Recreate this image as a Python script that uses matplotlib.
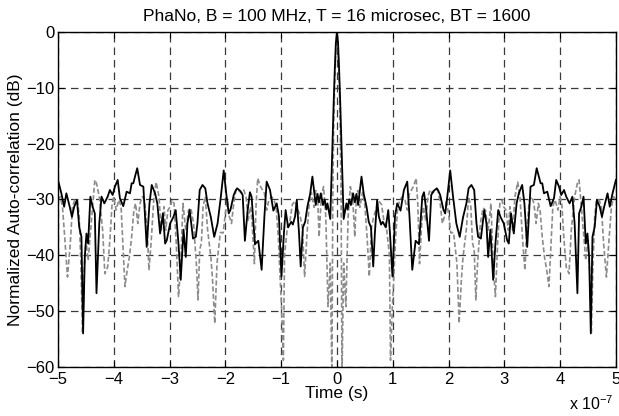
import numpy as np
import matplotlib
matplotlib.use("Agg")
import matplotlib.pyplot as plt

plt.rcParams['font.family'] = ['Liberation Sans', 'DejaVu Sans']

# positive half of the time axis (units of 1e-7 s), the plot is symmetric about 0
t_black = [0.00, 0.02, 0.04, 0.06, 0.08, 0.10, 0.12, 0.17, 0.19, 0.22, 0.25, 0.29,
           0.32, 0.35, 0.38, 0.44, 0.48, 0.53, 0.57, 0.61, 0.65, 0.68, 0.72, 0.75,
           0.79, 0.82, 0.875, 0.92, 0.95, 0.995, 1.04, 1.08, 1.14, 1.20, 1.26, 1.30,
           1.35, 1.41, 1.47, 1.53, 1.56, 1.60, 1.65, 1.69, 1.73, 1.79, 1.82, 1.85,
           1.91, 1.94, 1.98, 2.03, 2.08, 2.14, 2.20, 2.26, 2.32, 2.36, 2.41, 2.46,
           2.50, 2.53, 2.58, 2.64, 2.68, 2.71, 2.75, 2.80, 2.84, 2.89, 2.93, 2.99,
           3.05, 3.08, 3.12, 3.17, 3.22, 3.26, 3.32, 3.36, 3.41, 3.47, 3.53, 3.58,
           3.62, 3.65, 3.68, 3.71, 3.77, 3.83, 3.89, 3.93, 3.98, 4.02, 4.07, 4.11,
           4.17, 4.22, 4.26, 4.31, 4.34, 4.38, 4.42, 4.46, 4.49, 4.52, 4.55, 4.58,
           4.62, 4.66, 4.71, 4.75, 4.79, 4.85, 4.89, 4.94, 5.00]
db_black = [0, -2, -7, -13, -20, -27, -33.5, -30.7, -31.8, -30, -31, -28.9,
            -30.5, -29, -31, -25.9, -29, -31.3, -34, -35, -42, -36, -30.1, -33,
            -34.5, -34, -35, -31.9, -36, -43.8, -33, -30.7, -32, -28.3, -26.8, -33,
            -42.6, -37.4, -38, -29.5, -28.7, -31.9, -37.4, -29.2, -28.5, -28, -28.5, -29.2,
            -31.9, -32.5, -29.3, -24.8, -29.4, -34.3, -36.7, -33.2, -30.7, -28, -27.4, -28.3,
            -34.2, -36.7, -37, -31.9, -34.3, -40.3, -35.4, -44.4, -38, -31.9, -33.1, -34.3,
            -37.3, -37.9, -32.5, -36.1, -30.7, -28.9, -27.4, -30.7, -38.5, -27.7, -27.4, -24.4,
            -25.9, -27.1, -27.1, -28.9, -28.6, -31.2, -29.8, -26.5, -27.7, -29.2, -28.3, -29.5,
            -30.7, -29.5, -34.3, -46.8, -32.5, -31.3, -29.5, -37.9, -36.1, -40.3, -54, -36.7,
            -34.9, -30.1, -31.3, -33.1, -31.3, -28.9, -31.3, -28.9, -26.5]

t_gray = [0.00, 0.02, 0.04, 0.06, 0.075, 0.09, 0.12, 0.16, 0.20, 0.24, 0.28, 0.32,
          0.35, 0.38, 0.41, 0.46, 0.50, 0.54, 0.58, 0.62, 0.66, 0.71, 0.75, 0.80,
          0.84, 0.88, 0.94, 0.96, 0.99, 1.02, 1.05, 1.09, 1.13, 1.17, 1.22, 1.26,
          1.30, 1.37, 1.42, 1.45, 1.48, 1.52, 1.55, 1.59, 1.63, 1.67, 1.71, 1.77,
          1.81, 1.85, 1.89, 1.93, 1.96, 2.00, 2.04, 2.09, 2.15, 2.19, 2.23, 2.26,
          2.32, 2.36, 2.40, 2.43, 2.46, 2.49, 2.52, 2.57, 2.62, 2.66, 2.71, 2.76,
          2.80, 2.84, 2.88, 2.92, 2.96, 2.98, 3.03, 3.07, 3.10, 3.15, 3.19, 3.24,
          3.28, 3.33, 3.37, 3.40, 3.45, 3.49, 3.53, 3.57, 3.61, 3.64, 3.68, 3.72,
          3.76, 3.80, 3.84, 3.87, 3.91, 3.96, 4.00, 4.03, 4.07, 4.11, 4.16, 4.20,
          4.26, 4.31, 4.34, 4.38, 4.42, 4.46, 4.50, 4.53, 4.56, 4.59, 4.62, 4.65,
          4.70, 4.74, 4.78, 4.83, 4.88, 4.92, 4.96, 5.00]
db_gray = [0, -3, -9, -18, -30, -62, -41.4, -49.2, -33.1, -27.7, -29.5, -36.7,
           -28.7, -28.4, -31.4, -28.7, -31, -36.7, -43.8, -34.9, -33, -31.5, -30.3, -30.9,
           -33.7, -34.3, -39.9, -58.8, -50, -43.8, -37, -31.3, -30.1, -29.5, -30.1, -31.9,
           -28.9, -27.7, -26.2, -31, -41.5, -34.3, -31.3, -33.7, -29.5, -28.3, -28.9, -28.3,
           -28.3, -30.7, -34.3, -33, -30.1, -32.5, -36, -35.9, -41.4, -52.2, -44.4, -40.3,
           -35.3, -29.5, -31.3, -37.8, -39, -48, -41.5, -34.3, -31.5, -31.9, -35.5, -30.7,
           -41.4, -47.4, -37.9, -30.7, -30.1, -31.2, -31.9, -35.5, -31.3, -35.5, -29.5, -26.9,
           -29.5, -37.6, -42.7, -35.5, -30.1, -29.5, -30.7, -34.3, -30.7, -31.9, -36.7, -40.3,
           -42.7, -45.6, -37.3, -31.2, -30.1, -31.9, -29.5, -30.7, -37.3, -42.1, -43.3, -35.5,
           -29.5, -27.1, -26.5, -31.3, -36.1, -40.9, -37.3, -42.7, -54, -41.5, -33.1, -30.1,
           -30.1, -31.3, -37.9, -43.9, -36.7, -31.3, -29.5, -30.1]

x_ticks = [-5, -4, -3, -2, -1, 0, 1, 2, 3, 4, 5]
y_ticks = [0, -10, -20, -30, -40, -50, -60]


def mirror(t, v):
    t = np.array(t)
    v = np.array(v)
    tt = np.concatenate([-t[:0:-1], t]) * 1e-7
    vv = np.concatenate([v[:0:-1], v])
    return tt, vv


def lab(n):
    return str(n).replace('-', '\u2212')


tb, vb = mirror(t_black, db_black)
tg, vg = mirror(t_gray, db_gray)

fig = plt.figure(figsize=(6.19, 4.16), dpi=100)
ax = fig.add_axes([0.0937, 0.118, 0.9013, 0.805])

ax.plot(tg, vg, color='#8c8c8c', linestyle='--', linewidth=1.2, dashes=(3, 1.5))
ax.plot(tb, vb, color='black', linewidth=1.3)

ax.set_xlim(-5e-7, 5e-7)
ax.set_ylim(-60, 0)
ax.set_xticks([x * 1e-7 for x in x_ticks])
ax.set_xticklabels([lab(x) for x in x_ticks], fontsize=12)
ax.set_yticks(y_ticks)
ax.set_yticklabels([lab(y) for y in y_ticks], fontsize=12)
ax.tick_params(direction='in', top=True, right=True, length=4)
ax.tick_params(axis='x', pad=4)
ax.tick_params(axis='y', pad=2.5)
ax.grid(True, color='#3a3a3a', linestyle='--', linewidth=0.9, dashes=(6, 4))
for s in ax.spines.values():
    s.set_linewidth(1.0)

ax.set_title('PhaNo, B = 100 MHz, T = 16 microsec, BT = 1600', fontsize=12.5, pad=8)
ax.set_xlabel('Time (s)', fontsize=12.5, labelpad=-1)
ax.set_ylabel('Normalized Auto-correlation (dB)', fontsize=12.5, labelpad=2)
fig.text(0.992, 0.015, r'x 10$^{\mathregular{-7}}$', fontsize=11.5, ha='right')

fig.savefig('out.png', dpi=100)
